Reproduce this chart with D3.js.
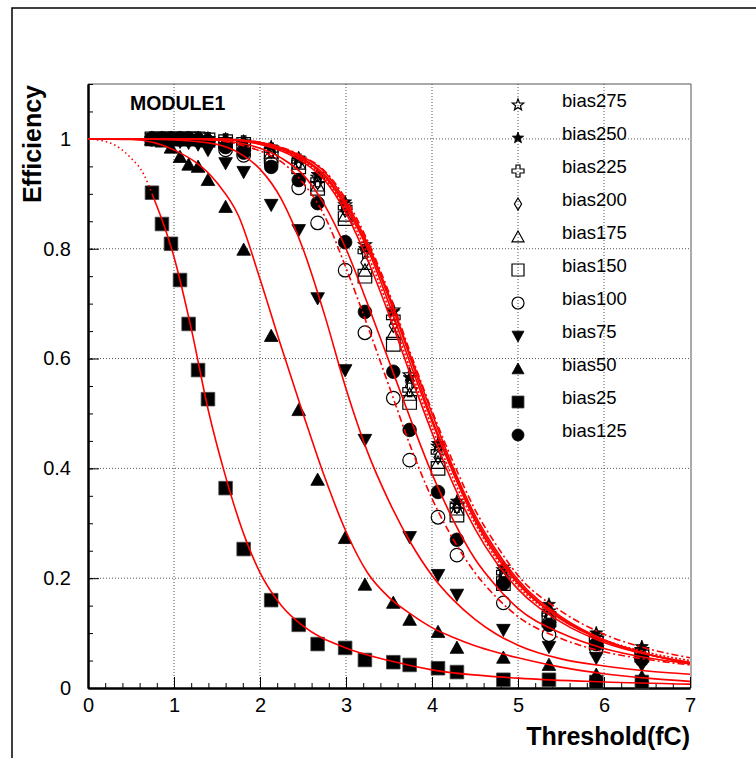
<!DOCTYPE html>
<html><head><meta charset="utf-8">
<script src="https://cdn.jsdelivr.net/npm/d3@7"></script>
<style>body{margin:0;background:#fff}text{font-family:"Liberation Sans",Arial,Helvetica,sans-serif}</style>
</head><body><svg id="c" width="756" height="758"></svg>
<script>
// ---------- data ----------
const thresholds = [0.744,0.86,0.965,1.07,1.17,1.28,1.395,1.6,1.81,2.13,2.45,2.67,2.99,3.22,3.55,3.74,4.07,4.29,4.83,5.36,5.91,6.44];
const bias25  = [0.902,0.845,0.809,0.743,0.663,0.579,0.526,0.364,0.253,0.160,0.115,0.080,0.073,0.051,0.047,0.042,0.036,0.029,0.015,0.015,0.011,0.011];
const bias50  = [0.998,0.995,0.984,0.967,0.953,0.949,0.925,0.876,0.798,0.641,0.506,0.379,0.273,0.188,0.155,0.124,0.102,0.073,0.055,0.042,0.024,0.020];
const bias75  = [1.0,1.0,0.998,0.995,0.993,0.99,0.98,0.956,0.94,0.88,0.834,0.71,0.579,0.452,null,0.275,0.206,0.17,0.106,0.075,0.055,0.042];
const bias100 = [1,1,1,1,1,0.998,0.995,0.98,0.97,0.955,0.911,0.847,0.761,0.647,0.528,0.415,0.311,0.242,0.155,0.097,0.072,0.052];
const bias125 = [1,1,1,1,1,0.998,0.995,0.985,0.975,0.949,0.925,0.883,0.812,0.685,0.576,0.47,0.357,0.27,0.19,0.115,0.08,0.055];
const bias150 = [1,1,1,1,1,1,0.998,0.995,0.99,0.97,0.949,0.91,0.855,0.75,0.626,0.52,0.40,0.315,0.19,0.124,0.082,0.06];
const bias175 = [1,1,1,1,1,1,0.998,0.996,0.99,0.975,0.955,0.915,0.86,0.76,0.645,0.534,0.41,0.325,0.20,0.13,0.085,0.062];
const bias200 = [1,1,1,1,1,1,0.999,0.996,0.992,0.978,0.958,0.92,0.87,0.775,0.66,0.55,0.42,0.33,0.205,0.13,0.088,0.063];
const bias225 = [1,1,1,1,1,1,0.999,0.997,0.993,0.98,0.96,0.925,0.875,0.795,0.675,0.543,0.43,0.332,0.21,0.135,0.09,0.065];
const bias250 = [1,1,1,1,1,1,1,0.998,0.994,0.985,0.965,0.935,0.885,0.80,0.685,0.565,0.445,0.34,0.22,0.152,0.10,0.075];
const bias275 = [1,1,1,1,1,1,1,0.998,0.994,0.983,0.963,0.93,0.88,0.807,0.688,0.57,0.44,0.335,0.215,0.14,0.095,0.07];

// fitted curves
const curveX = [0,0.5,1,1.5,1.75,2,2.25,2.5,2.75,3,3.25,3.5,3.75,4,4.25,4.5,4.75,5,5.5,6,6.5,7];
const fit50  = [1,0.999,0.98,0.92,0.86,0.745,0.62,0.5,0.385,0.285,0.21,0.165,0.135,0.11,0.092,0.077,0.065,0.055,0.038,0.026,0.018,0.012];
const fit75  = [1,1,0.998,0.99,0.975,0.945,0.89,0.8,0.68,0.545,0.43,0.34,0.265,0.205,0.16,0.125,0.098,0.078,0.053,0.04,0.031,0.025];
const fit100 = [1,1,1,0.997,0.99,0.978,0.958,0.92,0.86,0.765,0.66,0.55,0.44,0.345,0.27,0.21,0.165,0.13,0.09,0.066,0.052,0.042];
const fit125 = [1,1,1,0.998,0.993,0.983,0.965,0.935,0.88,0.8,0.7,0.595,0.49,0.39,0.305,0.235,0.185,0.145,0.1,0.072,0.055,0.044];
const fit150 = [1,1,1,0.999,0.997,0.99,0.978,0.958,0.925,0.865,0.78,0.68,0.57,0.465,0.37,0.29,0.228,0.18,0.12,0.083,0.061,0.047];
const fit175 = [1,1,1,0.999,0.997,0.991,0.98,0.96,0.928,0.87,0.79,0.69,0.58,0.475,0.38,0.3,0.235,0.186,0.125,0.088,0.065,0.05];
const fit200 = [1,1,1,0.999,0.998,0.992,0.981,0.962,0.932,0.875,0.8,0.7,0.59,0.485,0.39,0.305,0.24,0.19,0.125,0.086,0.062,0.046];
const fit225 = [1,1,1,0.999,0.998,0.993,0.982,0.964,0.935,0.88,0.805,0.71,0.6,0.49,0.395,0.31,0.245,0.193,0.127,0.087,0.062,0.045];
const fit250 = [1,1,1,1,0.998,0.994,0.984,0.967,0.94,0.885,0.81,0.715,0.605,0.5,0.4,0.315,0.25,0.197,0.13,0.088,0.062,0.044];
const fit275 = [1,1,1,1,0.998,0.994,0.985,0.968,0.942,0.89,0.815,0.72,0.61,0.505,0.41,0.325,0.26,0.205,0.14,0.098,0.072,0.055];
const fit25X    = [0.744,0.9,1.0,1.2,1.4,1.6,1.8,2.0,2.25,2.5,3.0,3.5,4.0,5.0,6.0,7.0];
const fit25     = [0.9,0.835,0.785,0.655,0.505,0.385,0.285,0.21,0.15,0.113,0.073,0.05,0.033,0.018,0.011,0.007];
const fit25LowX = [0,0.25,0.5,0.65,0.744];
const fit25Low  = [1,0.993,0.965,0.935,0.9];

const legendNames = ["bias275","bias250","bias225","bias200","bias175","bias150","bias100","bias75","bias50","bias25","bias125"];
const xTickValues = [0,1,2,3,4,5,6,7];
const yTickValues = [0,0.2,0.4,0.6,0.8,1];
const yTickLabels = ["0","0.2","0.4","0.6","0.8","1"];
const xTitle = "Threshold(fC)";
const yTitle = "Efficiency";
const plotLabel = "MODULE1";

// ---------- setup ----------
const svg = d3.select("#c");
const x = d3.scaleLinear().domain([0,7]).range([88,690]);
const y = d3.scaleLinear().domain([0,1.1]).range([688,84]);

const markerOf = {
  bias275:"ostar", bias250:"star", bias225:"cross", bias200:"diamond", bias175:"otri",
  bias150:"osquare", bias100:"ocircle", bias75:"dtri", bias50:"tri", bias25:"square", bias125:"circle"
};
const seriesData = {bias25,bias50,bias75,bias100,bias125,bias150,bias175,bias200,bias225,bias250,bias275};

function markerPath(t, r){
  if (t==="square"||t==="osquare") return `M${-r},${-r}H${r}V${r}H${-r}Z`;
  if (t==="circle"||t==="ocircle") return `M${r},0A${r},${r} 0 1,1 ${-r},0A${r},${r} 0 1,1 ${r},0Z`;
  if (t==="tri"||t==="otri") return `M0,${-r}L${r},${r*0.8}L${-r},${r*0.8}Z`;
  if (t==="dtri") return `M0,${r}L${r},${-r*0.8}L${-r},${-r*0.8}Z`;
  if (t==="diamond") return `M0,${-r}L${r*0.6},0L0,${r}L${-r*0.6},0Z`;
  if (t==="cross"){ const a=r/3; return `M${-a},${-r}L${a},${-r}L${a},${-a}L${r},${-a}L${r},${a}L${a},${a}L${a},${r}L${-a},${r}L${-a},${a}L${-r},${a}L${-r},${-a}L${-a},${-a}Z`; }
  if (t==="star"||t==="ostar"){
    const pts=[]; for(let i=0;i<10;i++){const rr=i%2?r*0.42:r; const ang=-Math.PI/2+i*Math.PI/5; pts.push([rr*Math.cos(ang), rr*Math.sin(ang)]);}
    return "M"+pts.map(p=>p[0].toFixed(2)+","+p[1].toFixed(2)).join("L")+"Z";
  }
}
function styleMarker(sel, t){
  const open = ["ostar","cross","diamond","otri","osquare","ocircle"].includes(t);
  sel.attr("fill", open ? "none" : "#000")
     .attr("stroke", t==="square" ? "#444" : "#000")
     .attr("stroke-width", open ? 1.2 : 0.8);
}

// outer pad frame
svg.append("rect").attr("x",12).attr("y",8).attr("width",800).attr("height",800)
  .attr("fill","none").attr("stroke","#000").attr("stroke-width",1.5);

// grid
const grid = svg.append("g").attr("stroke","#555").attr("stroke-width",1).attr("stroke-dasharray","1,2");
[1,2,3,4,5,6].forEach(v=>grid.append("line").attr("x1",x(v)).attr("x2",x(v)).attr("y1",y(1.1)).attr("y2",y(0)));
[0.2,0.4,0.6,0.8,1.0].forEach(v=>grid.append("line").attr("x1",x(0)).attr("x2",x(7)).attr("y1",y(v)).attr("y2",y(v)));

// frame top/right
svg.append("path").attr("d",`M${x(0)},${y(1.1)}H${x(7)+1}V${y(0)}`).attr("fill","none").attr("stroke","#555").attr("stroke-width",1);

// axes
const fs = 20;
const xAxis = d3.axisBottom(x).tickValues(xTickValues).tickFormat(d3.format("d")).tickSizeInner(-11).tickSizeOuter(0).tickPadding(10);
const xMinor = d3.axisBottom(x).tickValues(d3.range(0,7.001,0.2)).tickFormat("").tickSizeInner(-5).tickSizeOuter(0);
const yAxis = d3.axisLeft(y).tickValues(yTickValues).tickFormat((d,i)=>yTickLabels[i]).tickSizeInner(-11).tickSizeOuter(0).tickPadding(17);
const yMinor = d3.axisLeft(y).tickValues(d3.range(0,1.1001,0.05)).tickFormat("").tickSizeInner(-5).tickSizeOuter(0);

function styleAxis(g){
  g.select(".domain").attr("stroke","#000").attr("stroke-width",2);
  g.selectAll(".tick line").attr("stroke","#000").attr("stroke-width",1);
  g.selectAll("text").attr("font-size",fs).attr("fill","#000").style("font-family",'"Liberation Sans",Arial,sans-serif');
}
svg.append("g").attr("transform",`translate(0,${y(0)})`).call(xMinor).call(styleAxis);
svg.append("g").attr("transform",`translate(0,${y(0)})`).call(xAxis).call(styleAxis);
svg.append("g").attr("transform",`translate(${x(0)},0)`).call(yMinor).call(styleAxis);
svg.append("g").attr("transform",`translate(${x(0)},0)`).call(yAxis).call(styleAxis);

// titles
svg.append("text").attr("x",690).attr("y",745).attr("text-anchor","end")
  .attr("font-size",25).attr("font-weight","bold").text(xTitle);
svg.append("text").attr("transform",`translate(41,${y(1.1)+1}) rotate(-90)`).attr("text-anchor","end")
  .attr("font-size",25).attr("font-weight","bold").text(yTitle);
svg.append("text").attr("x",130).attr("y",110).attr("font-size",19.5).attr("font-weight","bold").text(plotLabel);

// markers
const clip = svg.append("clipPath").attr("id","pc").append("rect")
  .attr("x",x(0)).attr("y",y(1.1)).attr("width",x(7)-x(0)).attr("height",y(0)-y(1.1));
const order = ["bias25","bias50","bias75","bias100","bias125","bias150","bias175","bias200","bias225","bias250","bias275"];
const mg = svg.append("g");
order.forEach(name=>{
  const t = markerOf[name];
  const pts = thresholds.map((tx,i)=>({x:tx,y:seriesData[name][i]})).filter(d=>d.y!=null);
  mg.selectAll(null).data(pts).enter().append("path")
    .attr("transform",d=>`translate(${x(d.x)},${y(d.y)})`)
    .attr("d",markerPath(t,6.8)).call(s=>styleMarker(s,t));
});

// fitted curves
const cg = svg.append("g").attr("clip-path","url(#pc)").attr("fill","none").attr("stroke","#ff0000");
const line = d3.line().x(d=>x(d[0])).y(d=>y(d[1])).curve(d3.curveMonotoneX);
const fits = [
  [curveX,fit50,null],[curveX,fit75,null],[curveX,fit100,"7,3,2,3"],[curveX,fit125,null],
  [curveX,fit150,null],[curveX,fit175,"2,2"],[curveX,fit200,null],[curveX,fit225,null],
  [curveX,fit250,null],[curveX,fit275,"7,3,2,3"],[fit25X,fit25,null],[fit25LowX,fit25Low,"1.5,3"]
];
fits.forEach(([xs,ys,dash])=>{
  cg.append("path").attr("d",line(xs.map((v,i)=>[v,ys[i]])))
    .attr("stroke-width",1.6).attr("stroke-dasharray",dash);
});

// legend
const lg = svg.append("g");
legendNames.forEach((name,i)=>{
  const by = 107 + i*33;
  const t = markerOf[name];
  lg.append("path").attr("transform",`translate(518,${by-2})`).attr("d",markerPath(t,6)).call(s=>styleMarker(s,t));
  lg.append("text").attr("x",562).attr("y",by).attr("font-size",18.5).attr("fill","#000").text(name);
});
</script>
</body></html>
